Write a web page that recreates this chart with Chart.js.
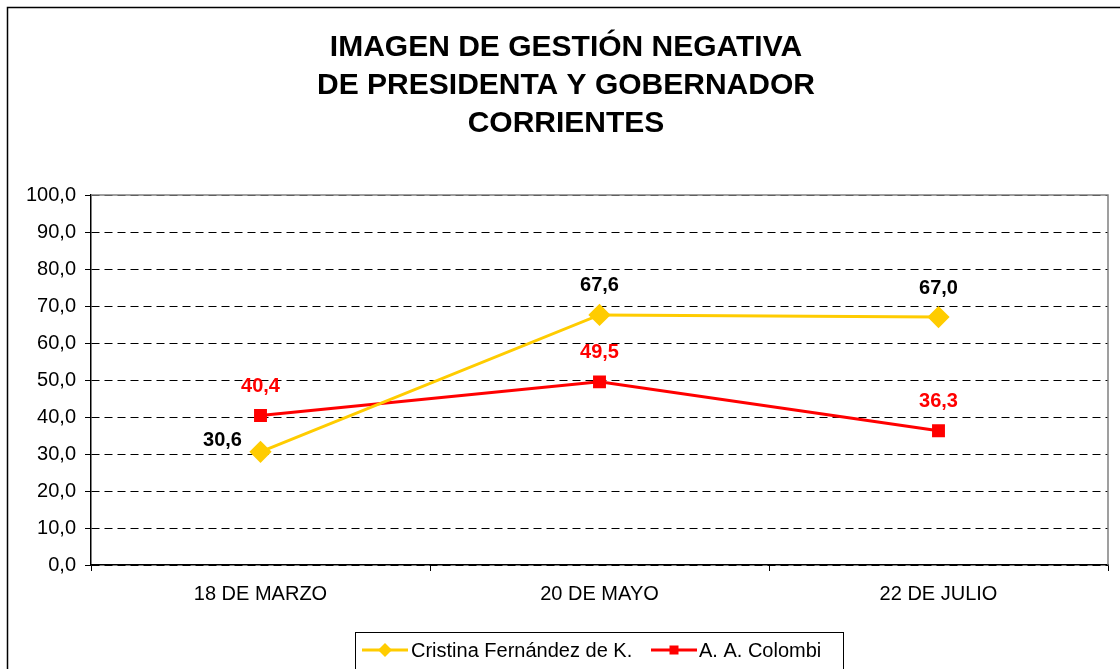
<!DOCTYPE html>
<html>
<head>
<meta charset="utf-8">
<script src="https://cdn.jsdelivr.net/npm/chart.js@4/dist/chart.umd.min.js"></script>
<style>
  html, body { margin: 0; padding: 0; background: #fff; }
  #wrap { width: 1120px; height: 669px; }
</style>
</head>
<body>
<div id="wrap"><canvas id="c" width="1120" height="669"></canvas></div>
<script>
// Survey dates and negative-image percentages
const categories = ['18 DE MARZO', '20 DE MAYO', '22 DE JULIO'];
const cristinaValues = [30.6, 67.6, 67.0];
const colombiValues = [40.4, 49.5, 36.3];
const seriesNames = ['Cristina Fernández de K.', 'A. A. Colombi'];
const titleLines = ['IMAGEN DE GESTIÓN NEGATIVA', 'DE PRESIDENTA Y GOBERNADOR', 'CORRIENTES'];
const yTicks = [0, 10, 20, 30, 40, 50, 60, 70, 80, 90, 100];

const FONT = '"Liberation Sans", Arial, sans-serif';
const YELLOW = '#FFCC00';
const RED = '#FF0000';

const fmt = v => v.toFixed(1).replace('.', ',');

// Frame, title, plot-area border, value labels and legend box
const decorations = {
  id: 'decorations',
  beforeDraw(chart) {
    const ctx = chart.ctx;
    ctx.save();
    ctx.fillStyle = '#fff';
    ctx.fillRect(0, 0, chart.width, chart.height);
    ctx.restore();
  },
  afterDatasetsDraw(chart) {
    const ctx = chart.ctx;
    const a = chart.chartArea;
    ctx.save();
    // plot area top and right edge
    ctx.strokeStyle = '#808080';
    ctx.lineWidth = 1.5;
    ctx.beginPath();
    ctx.moveTo(a.left, a.top);
    ctx.lineTo(a.right, a.top);
    ctx.lineTo(a.right, a.bottom);
    ctx.stroke();
    ctx.restore();
  },
  afterDraw(chart) {
    const ctx = chart.ctx;
    ctx.save();
    // outer frame
    ctx.strokeStyle = '#000';
    ctx.lineWidth = 1.5;
    ctx.strokeRect(7.5, 7.5, 1130, 700);

    // title
    ctx.fillStyle = '#000';
    ctx.font = 'bold 30px ' + FONT;
    ctx.textAlign = 'center';
    ctx.textBaseline = 'middle';
    titleLines.forEach((t, i) => ctx.fillText(t, 566, 48 + i * 38));

    // value labels
    ctx.font = 'bold 20px ' + FONT;
    chart.data.datasets.forEach((ds, di) => {
      const meta = chart.getDatasetMeta(di);
      meta.data.forEach((pt, i) => {
        let x = pt.x, y = pt.y - 29;
        if (di === 0 && i === 0) { x = pt.x - 38; y = pt.y - 11; }
        ctx.fillStyle = ds.labelColor;
        ctx.fillText(fmt(ds.data[i]), x, y);
      });
    });

    // legend
    ctx.strokeStyle = '#000';
    ctx.lineWidth = 1;
    ctx.strokeRect(355.5, 632.5, 488, 60);
    const ly = 650;
    const drawEntry = (x0, ds, textX, label) => {
      ctx.strokeStyle = ds.borderColor;
      ctx.lineWidth = 3;
      ctx.beginPath();
      ctx.moveTo(x0, ly);
      ctx.lineTo(x0 + 46, ly);
      ctx.stroke();
      ctx.fillStyle = ds.borderColor;
      const cx = x0 + 23;
      if (ds.pointStyle === 'rectRot') {
        ctx.beginPath();
        ctx.moveTo(cx, ly - 7);
        ctx.lineTo(cx + 7, ly);
        ctx.lineTo(cx, ly + 7);
        ctx.lineTo(cx - 7, ly);
        ctx.closePath();
        ctx.fill();
      } else {
        ctx.fillRect(cx - 4.5, ly - 4.5, 9, 9);
      }
      ctx.fillStyle = '#000';
      ctx.font = '20px ' + FONT;
      ctx.textAlign = 'left';
      ctx.fillText(label, textX, ly + 1);
    };
    const dsets = chart.data.datasets;
    drawEntry(362, dsets[0], 411, seriesNames[0]);
    drawEntry(651, dsets[1], 699, seriesNames[1]);
    ctx.restore();
  }
};

new Chart(document.getElementById('c'), {
  type: 'line',
  data: {
    labels: categories,
    datasets: [
      {
        label: seriesNames[0],
        data: cristinaValues,
        borderColor: YELLOW,
        backgroundColor: YELLOW,
        borderWidth: 3,
        pointStyle: 'rectRot',
        pointRadius: 9,
        pointHoverRadius: 9,
        tension: 0,
        labelColor: '#000'
      },
      {
        label: seriesNames[1],
        data: colombiValues,
        borderColor: RED,
        backgroundColor: RED,
        borderWidth: 3,
        pointStyle: 'rect',
        pointRadius: 7,
        pointHoverRadius: 7,
        tension: 0,
        labelColor: RED
      }
    ]
  },
  options: {
    responsive: false,
    animation: false,
    devicePixelRatio: 1,
    layout: { padding: { left: 0, top: 195, right: 12, bottom: 0 } },
    plugins: {
      legend: { display: false },
      title: { display: false },
      tooltip: { enabled: false }
    },
    scales: {
      x: {
        type: 'category',
        offset: true,
        grid: {
          offset: true,
          drawOnChartArea: false,
          drawTicks: true,
          tickLength: 6,
          tickColor: '#000',
          tickWidth: 1
        },
        border: { display: true, color: '#000', width: 1.5 },
        ticks: {
          color: '#000',
          font: { family: FONT, size: 20 },
          padding: 11,
          maxRotation: 0
        },
        afterFit(scale) { scale.height = 104; }
      },
      y: {
        min: 0,
        max: 100,
        afterBuildTicks(scale) { scale.ticks = yTicks.map(v => ({ value: v })); },
        grid: {
          color: '#000',
          lineWidth: 1,
          drawTicks: true,
          tickLength: 6,
          tickColor: '#000',
          tickWidth: 1
        },
        border: { display: true, color: '#000', width: 1.5, dash: [8, 5] },
        ticks: {
          color: '#000',
          font: { family: FONT, size: 20 },
          padding: 9,
          callback: v => fmt(v)
        },
        afterFit(scale) { scale.width = 91; }
      }
    }
  },
  plugins: [decorations]
});
</script>
</body>
</html>
